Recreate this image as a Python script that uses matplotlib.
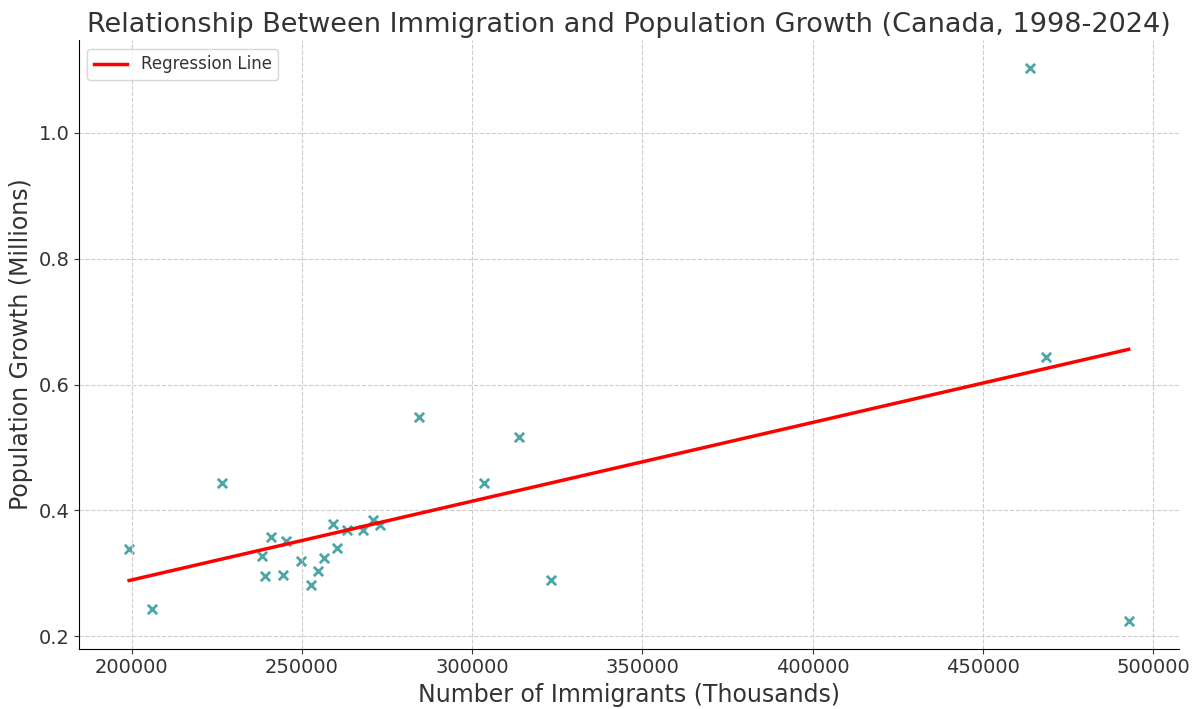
import numpy as np
import matplotlib.pyplot as plt

# immigrants per year and population growth (millions), Canada 1998-2024
immigrants = [199200, 206000, 226500, 238200, 239100, 240800, 244400, 245300,
              249700, 252600, 254600, 256400, 259200, 260200, 263100, 267900,
              270800, 272800, 284300, 303300, 313600, 323000, 463800, 468500,
              492800]
pop_growth = [0.338, 0.243, 0.443, 0.327, 0.295, 0.357, 0.297, 0.351,
              0.319, 0.281, 0.303, 0.325, 0.378, 0.340, 0.368, 0.368,
              0.384, 0.376, 0.548, 0.443, 0.516, 0.289, 1.103, 0.644,
              0.224]

x = np.array(immigrants)
y = np.array(pop_growth)
slope, intercept = np.polyfit(x, y, 1)
xs = np.array([x.min(), x.max()])

plt.rcParams['text.color'] = '#333333'
plt.rcParams['axes.labelcolor'] = '#333333'
plt.rcParams['xtick.color'] = '#333333'
plt.rcParams['ytick.color'] = '#333333'

fig, ax = plt.subplots(figsize=(11.99, 7.09), dpi=100)
ax.scatter(x, y, marker='x', color='teal', alpha=0.7, s=45, linewidths=2)
ax.plot(xs, slope * xs + intercept, color='red', linewidth=2.5, label='Regression Line')

ax.set_title('Relationship Between Immigration and Population Growth (Canada, 1998-2024)', fontsize=19.5)
ax.set_xlabel('Number of Immigrants (Thousands)', fontsize=17)
ax.set_ylabel('Population Growth (Millions)', fontsize=17)
ax.tick_params(labelsize=14)
ax.grid(True, linestyle='--', color='#cccccc', linewidth=0.8)
ax.spines['top'].set_visible(False)
ax.spines['right'].set_visible(False)
ax.legend(loc='upper left', fontsize=12)

fig.subplots_adjust(left=0.066, right=0.983, bottom=0.085, top=0.943)
fig.savefig('out.png')
